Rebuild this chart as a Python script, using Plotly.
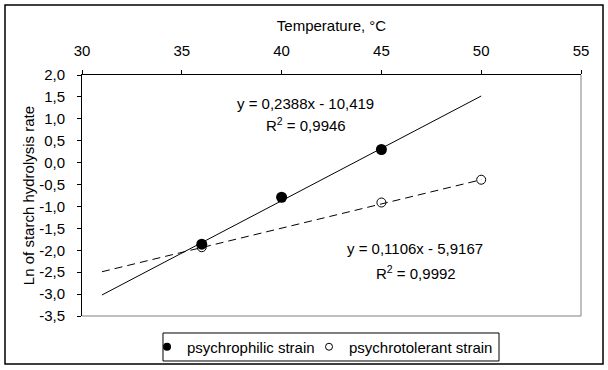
import plotly.graph_objects as go

# Data
temp_psychrophilic = [36, 40, 45]
ln_psychrophilic = [-1.86, -0.79, 0.30]
temp_psychrotolerant = [36, 45, 50]
ln_psychrotolerant = [-1.93, -0.91, -0.39]

trend_x = [31, 50]
trend_psychrophilic = [-3.02, 1.52]
trend_psychrotolerant = [-2.49, -0.39]

x_ticks = [30, 35, 40, 45, 50, 55]
y_ticks = [2.0, 1.5, 1.0, 0.5, 0.0, -0.5, -1.0, -1.5, -2.0, -2.5, -3.0, -3.5]
y_ticktext = ["2,0", "1,5", "1,0", "0,5", "0,0", "-0,5", "-1,0", "-1,5", "-2,0", "-2,5", "-3,0", "-3,5"]

FONT = "Liberation Sans, Arial, sans-serif"
FS = 15

fig = go.Figure()

fig.add_trace(go.Scatter(
    x=trend_x, y=trend_psychrophilic, mode="lines",
    line=dict(color="black", width=1), showlegend=False, hoverinfo="skip"))
fig.add_trace(go.Scatter(
    x=trend_x, y=trend_psychrotolerant, mode="lines",
    line=dict(color="black", width=1, dash="8px,5px"), showlegend=False, hoverinfo="skip"))

fig.add_trace(go.Scatter(
    x=temp_psychrophilic, y=ln_psychrophilic, mode="markers",
    name="psychrophilic strain", showlegend=False,
    marker=dict(symbol="circle", size=11, color="black")))
fig.add_trace(go.Scatter(
    x=temp_psychrotolerant, y=ln_psychrotolerant, mode="markers",
    name="psychrotolerant strain", showlegend=False,
    marker=dict(symbol="circle-open", size=9, color="black", line=dict(width=1, color="black"))))

# legend entries (smaller symbols, as in the reference legend)
fig.add_trace(go.Scatter(
    x=[None], y=[None], mode="markers", name="psychrophilic strain", legendwidth=117,
    marker=dict(symbol="circle", size=8, color="black")))
fig.add_trace(go.Scatter(
    x=[None], y=[None], mode="markers", name="psychrotolerant strain",
    marker=dict(symbol="circle-open", size=7, color="black", line=dict(width=1, color="black"))))

ann_font = dict(family=FONT, size=FS, color="black")
annotations = [
    dict(x=41.22, y=1.36, text="y = 0,2388x - 10,419"),
    dict(x=41.22, y=0.86, text="R<sup>2</sup> = 0,9946"),
    dict(x=46.66, y=-1.95, text="y = 0,1106x - 5,9167"),
    dict(x=46.73, y=-2.50, text="R<sup>2</sup> = 0,9992"),
]
for a in annotations:
    fig.add_annotation(xref="x", yref="y", showarrow=False, font=ann_font,
                       xanchor="center", yanchor="middle", **a)

shapes = [
    # outer chart border
    dict(type="rect", xref="paper", yref="paper", x0=-0.1543, x1=1.0441, y0=-0.1992, y1=1.2905,
         line=dict(color="black", width=1.5), fillcolor="rgba(0,0,0,0)", layer="below"),
    # right and bottom gray plot border
    dict(type="line", xref="paper", yref="paper", x0=1, x1=1, y0=0, y1=1,
         line=dict(color="#808080", width=1)),
    dict(type="line", xref="paper", yref="paper", x0=0, x1=1, y0=0, y1=0,
         line=dict(color="#808080", width=1)),
    # legend box
    dict(type="rect", xref="paper", yref="paper", x0=0.1623, x1=0.8357, y0=-0.1867, y1=-0.0705,
         line=dict(color="black", width=1), fillcolor="rgba(0,0,0,0)"),
]

fig.update_layout(
    width=608, height=370,
    margin=dict(l=82, r=27, t=75, b=54, autoexpand=False),
    paper_bgcolor="white", plot_bgcolor="white",
    font=dict(family=FONT, size=FS, color="black"),
    shapes=shapes,
    xaxis=dict(
        side="top", range=[30, 55], tickvals=x_ticks, ticktext=[str(v) for v in x_ticks],
        ticks="outside", ticklen=4, tickcolor="black", showline=True, linecolor="black",
        linewidth=1, showgrid=False, zeroline=False, ticklabelstandoff=8,
        title=dict(text="Temperature, °C", font=dict(size=FS), standoff=6),
        tickfont=dict(size=FS)),
    yaxis=dict(
        range=[-3.5, 2.0], tickvals=y_ticks, ticktext=y_ticktext,
        ticks="outside", ticklen=4, tickcolor="black", showline=True, linecolor="black",
        linewidth=1, showgrid=False, zeroline=False, ticklabelstandoff=9,
        title=dict(text="Ln of starch hydrolysis rate", font=dict(size=FS), standoff=0),
        tickfont=dict(size=FS)),
    legend=dict(
        orientation="h", x=0.1303, xanchor="left", y=-0.1286, yanchor="middle",
        borderwidth=0, bgcolor="rgba(0,0,0,0)",
        font=dict(size=FS), itemwidth=30),
)

fig.write_html("out.html", config={"displayModeBar": False},
               post_script="document.body.style.margin='0';")
